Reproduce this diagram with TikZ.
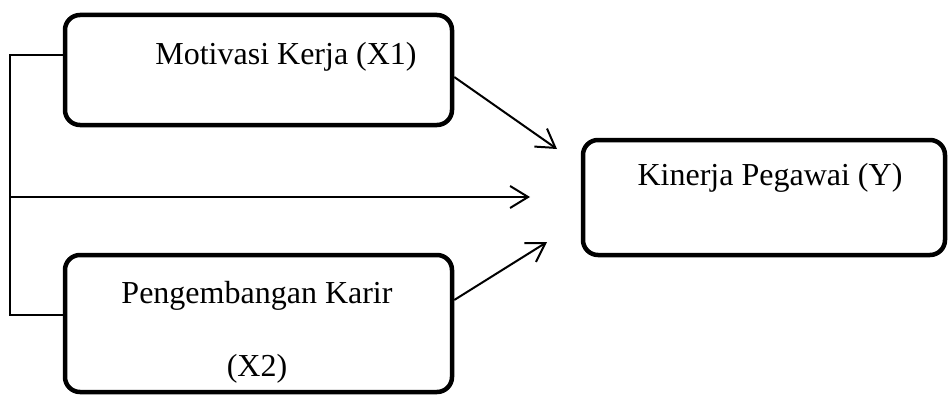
\documentclass[tikz,border=0pt]{standalone}
\usepackage{fontspec}
\setmainfont{Liberation Serif}
\usetikzlibrary{arrows.meta}

\begin{document}
\begin{tikzpicture}[x=1pt,y=-1pt,
    box/.style={draw,line width=4.5pt,rounded corners=15pt,inner sep=0pt},
    lbl/.style={font=\fontsize{32}{38}\selectfont,inner sep=0pt},
    link/.style={line width=2pt},
    arr/.style={link,-{Straight Barb[length=18pt,width=22pt,line width=2pt]}}]
      \useasboundingbox (0,0) rectangle (948,396);
      \node[box,minimum width=387pt,minimum height=110pt] (motivasi) at (258.5,70) {};
      \node[box,minimum width=387pt,minimum height=137pt] (karir) at (258.5,323.5) {};
      \node[box,minimum width=362pt,minimum height=115pt] (kinerja) at (764,197.5) {};
      \node[lbl] (motivasi-txt) at (286,57) {Motivasi Kerja (X1)};
      \node[lbl] (karir-txt) at (257,296) {Pengembangan Karir};
      \node[lbl] (karir-sub) at (257,369) {(X2)};
      \node[lbl] (kinerja-txt) at (770,178) {Kinerja Pegawai (Y)};
      \coordinate (kiri) at (10,197);
      \coordinate (tip-a) at (557,149);
      \coordinate (tip-b) at (530,197);
      \coordinate (tip-c) at (547,242);
      \draw[link] ([yshift=15pt]motivasi.west) -| (kiri) |- ([yshift=8.5pt]karir.west);
      \draw[arr] (kiri) -- (tip-b);
      \draw[arr] ([yshift=-7pt]motivasi.east) -- (tip-a);
      \draw[arr] ([yshift=23.5pt]karir.east) -- (tip-c);
\end{tikzpicture}
\end{document}
